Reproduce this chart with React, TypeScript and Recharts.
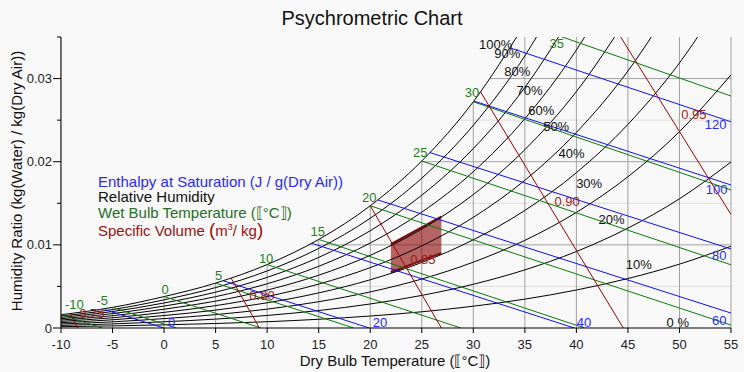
import { ComposedChart, Line, Area, Scatter, XAxis, YAxis, CartesianGrid } from "recharts";

// dry bulb temperature (°C) at which the relative humidity curves are sampled
const temps = [-10, -5, 0, 5, 10, 15, 20, 25, 30, 35, 40, 45, 50, 55];

// humidity ratio (kg water / kg dry air) along each relative humidity curve
const rh10 = [0.00016, 0.00025, 0.00038, 0.00054, 0.000755, 0.00105, 0.00144, 0.00195, 0.00262, 0.00347, 0.00457, 0.00595, 0.00768, 0.00983];
const rh20 = [0.00032, 0.00049, 0.00075, 0.00107, 0.00151, 0.0021, 0.00289, 0.00392, 0.00526, 0.00699, 0.0092, 0.01201, 0.01554, 0.01997];
const rh30 = [0.00048, 0.00074, 0.00113, 0.00161, 0.00227, 0.00316, 0.00434, 0.00589, 0.00792, 0.01054, 0.0139, 0.01819, 0.02361, 0.03045];
const rh40 = [0.00064, 0.00099, 0.0015, 0.00215, 0.00303, 0.00422, 0.0058, 0.00788, 0.01061, 0.01414, 0.01868, 0.02449, 0.03188, 0.04127];
const rh50 = [0.0008, 0.00123, 0.00188, 0.00269, 0.00379, 0.00528, 0.00726, 0.00988, 0.01331, 0.01777, 0.02352, 0.03091, 0.04037];
const rh60 = [0.00096, 0.00148, 0.00226, 0.00323, 0.00456, 0.00635, 0.00874, 0.0119, 0.01605, 0.02145, 0.02844, 0.03747];
const rh70 = [0.00112, 0.00173, 0.00264, 0.00377, 0.00532, 0.00742, 0.01022, 0.01393, 0.0188, 0.02517, 0.03344, 0.04415];
const rh80 = [0.00128, 0.00198, 0.00301, 0.00431, 0.00609, 0.00849, 0.0117, 0.01597, 0.02158, 0.02893, 0.03851];
const rh90 = [0.00144, 0.00222, 0.00339, 0.00486, 0.00686, 0.00957, 0.0132, 0.01802, 0.02438, 0.03273, 0.04366];
const rh100 = [0.0016, 0.00248, 0.00378, 0.0054, 0.00763, 0.01065, 0.0147, 0.02009, 0.02721, 0.03658];
const rhCurves = [rh10, rh20, rh30, rh40, rh50, rh60, rh70, rh80, rh90, rh100];

// wet bulb lines: start on saturation, end on the axis or right edge
const wetBulbStartT = [-10, -5, 0, 5, 10, 15, 20, 25, 30, 35];
const wetBulbStartW = [0.0016, 0.00248, 0.00378, 0.0054, 0.00763, 0.01065, 0.0147, 0.02009, 0.02721, 0.03658];
const wetBulbEndT = [-6.0, 1.2, 9.4, 18.4, 28.8, 40.8, 55, 55, 55, 55];
const wetBulbEndW = [0, 0, 0, 0, 0, 0, 0.00035, 0.0076, 0.0166, 0.0279];

// enthalpy lines (0..120 J/g)
const enthalpyStartT = [-5.75, 5.7, 14.3, 20.75, 25.8, 30.05, 33.55];
const enthalpyStartW = [0.0022, 0.0057, 0.0102, 0.0154, 0.0211, 0.0273, 0.0337];
const enthalpyEndT = [0, 19.9, 39.8, 55, 55, 55, 55];
const enthalpyEndW = [0, 0, 0, 0.0018, 0.0095, 0.0172, 0.0248];

// specific volume lines (0.75..0.95 m3/kg)
const volumeStartT = [-9.1, 6.5, 20.0, 30.7, 44.3];
const volumeStartW = [0.00175, 0.006, 0.0147, 0.0284, 0.035];
const volumeEndT = [-8.4, 9.25, 26.9, 44.55, 55];
const volumeEndW = [0, 0, 0, 0, 0.01365];

// comfort zone between 40% and 60% RH
const comfortT = [22, 26.9];
const comfortLow = [0.0067, 0.009];
const comfortHigh = [0.0101, 0.0134];

// labels: [t, w, text]
const wetBulbLabels: [number, number, string][] = [
  [-8.7, 0.00285, "-10"], [-6.0, 0.00325, "-5"], [0.1, 0.00465, "0"], [5.3, 0.00634, "5"],
  [9.9, 0.00838, "10"], [14.9, 0.01155, "15"], [19.9, 0.01572, "20"], [24.85, 0.02114, "25"],
  [29.87, 0.02827, "30"], [38.1, 0.03425, "35"],
];
const enthalpyLabels: [number, number, string][] = [
  [0.74, 0.0007, "0"], [20.94, 0.00072, "20"], [40.73, 0.00072, "40"], [53.85, 0.00093, "60"],
  [53.85, 0.00876, "80"], [53.6, 0.01665, "100"], [53.5, 0.0245, "120"],
];
const volumeLabels: [number, number, string][] = [
  [-7.0, 0.00173, "0.75"], [9.5, 0.00393, "0.80"], [25.1, 0.00823, "0.85"], [39.1, 0.01516, "0.90"], [51.4, 0.02567, "0.95"],
];
const rhLabels: [number, number, string][] = [
  [32.16, 0.03413, "100%"], [33.3, 0.03301, "90%"], [34.26, 0.03088, "80%"], [35.46, 0.02859, "70%"],
  [36.59, 0.02619, "60%"], [38.04, 0.02418, "50%"], [39.53, 0.02098, "40%"], [41.24, 0.01737, "30%"],
  [43.41, 0.01304, "20%"], [46.06, 0.00766, "10%"], [49.84, 0.00072, "0 %"],
];

const xTicks = [-10, -5, 0, 5, 10, 15, 20, 25, 30, 35, 40, 45, 50, 55];
const yTicks = [0, 0.005, 0.01, 0.015, 0.02, 0.025, 0.03, 0.035];
const yMajor = [0.01, 0.02, 0.03];
const yMinor = [0.005, 0.015, 0.025];

const BG = "#f8f8f8";
const FONT = "'Liberation Sans', Arial, sans-serif";

const segs = (st: number[], sw: number[], et: number[], ew: number[]) =>
  st.map((t, i) => [{ t, w: sw[i] }, { t: et[i], w: ew[i] }]);

const toLabelData = (arr: [number, number, string][]) => arr.map(([t, w, text]) => ({ t, w, text }));

const labelShape = (color: string) => (props: any) => (
  <text x={props.cx} y={props.cy} textAnchor="middle" dominantBaseline="central" fontSize={13} fill={color} fontFamily={FONT}>
    {props.payload.text}
  </text>
);

const YTick = (props: any) => {
  const { x, y, payload } = props;
  const v = payload.value;
  const major = Math.abs(v * 100 - Math.round(v * 100)) < 1e-6;
  return (
    <g>
      <line x1={x + (major ? 0 : 4)} y1={y} x2={x + 8} y2={y} stroke="#000" />
      {major && (
        <text x={x - 1} y={y} textAnchor="end" dominantBaseline="central" fontSize={13} fill="#222" fontFamily={FONT}>
          {v === 0 ? "0" : v.toFixed(2)}
        </text>
      )}
    </g>
  );
};

export default function App() {
  const maskData = rh100.map((w, i) => ({ t: temps[i], band: [w, 0.035] }));
  const comfortData = comfortT.map((t, i) => ({ t, band: [comfortLow[i], comfortHigh[i]] }));

  return (
    <div style={{ position: "absolute", left: 0, top: 0, width: 744, height: 372, background: BG, fontFamily: FONT }}>
      <div style={{ position: "absolute", top: 6, left: 0, width: 744, textAlign: "center", fontSize: 20, lineHeight: "24px", color: "#111" }}>
        Psychrometric Chart
      </div>
      <ComposedChart width={744} height={372} margin={{ top: 37, right: 13, bottom: 14, left: 8 }}>
        <CartesianGrid horizontal={true} vertical={false} horizontalValues={yMinor} stroke="#dddddd" />
        <CartesianGrid horizontal={true} vertical={true} horizontalValues={yMajor} verticalValues={xTicks} stroke="#a0a0a0" />
        <Area data={maskData} dataKey="band" type="monotone" stroke="none" fill={BG} fillOpacity={1} isAnimationActive={false} />
        {rhCurves.map((arr, k) => (
          <Line key={"rh" + k} data={arr.map((w, i) => ({ t: temps[i], w }))} dataKey="w" type="monotone" stroke="#000" strokeWidth={1} dot={false} isAnimationActive={false} />
        ))}
        {segs(wetBulbStartT, wetBulbStartW, wetBulbEndT, wetBulbEndW).map((d, k) => (
          <Line key={"wb" + k} data={d} dataKey="w" type="linear" stroke="#0a7a0a" strokeWidth={1} dot={false} isAnimationActive={false} />
        ))}
        {segs(enthalpyStartT, enthalpyStartW, enthalpyEndT, enthalpyEndW).map((d, k) => (
          <Line key={"h" + k} data={d} dataKey="w" type="linear" stroke="#1010ee" strokeWidth={1} dot={false} isAnimationActive={false} />
        ))}
        {segs(volumeStartT, volumeStartW, volumeEndT, volumeEndW).map((d, k) => (
          <Line key={"v" + k} data={d} dataKey="w" type="linear" stroke="#a00000" strokeWidth={1} dot={false} isAnimationActive={false} />
        ))}
        <Area data={comfortData} dataKey="band" type="linear" stroke="#7a0a0a" strokeWidth={2} fill="#8b0000" fillOpacity={0.6} isAnimationActive={false} />
        <Scatter data={toLabelData(wetBulbLabels)} dataKey="w" shape={labelShape("#1f7f1f")} isAnimationActive={false} />
        <Scatter data={toLabelData(enthalpyLabels)} dataKey="w" shape={labelShape("#2a2aff")} isAnimationActive={false} />
        <Scatter data={toLabelData(volumeLabels)} dataKey="w" shape={labelShape("#a01818")} isAnimationActive={false} />
        <Scatter data={toLabelData(rhLabels)} dataKey="w" shape={labelShape("#111")} isAnimationActive={false} />
        <XAxis type="number" dataKey="t" domain={[-10, 55]} ticks={xTicks} allowDataOverflow stroke="#000" tickSize={5} tickMargin={7} height={30} tick={{ fontSize: 13, fill: "#222", fontFamily: FONT }} />
        <YAxis type="number" domain={[0, 0.035]} ticks={yTicks} allowDataOverflow stroke="#000" width={53} tickSize={8} tickMargin={0} tickLine={false} tick={<YTick />} />
      </ComposedChart>
      <div style={{ position: "absolute", left: 16.5 - 160, top: 181 - 10, width: 320, height: 20, lineHeight: "20px", textAlign: "center", fontSize: 15, color: "#111", transform: "rotate(-90deg)" }}>
        Humidity Ratio (kg(Water) / kg(Dry Air))
      </div>
      <div style={{ position: "absolute", left: 395 - 200, top: 354, width: 400, height: 14, lineHeight: "14px", textAlign: "center", fontSize: 15, color: "#111" }}>
        Dry Bulb Temperature (⟦°C⟧)
      </div>
      <div style={{ position: "absolute", left: 98, top: 174, fontSize: 15, lineHeight: "15.3px", whiteSpace: "nowrap" }}>
        <div style={{ color: "#2a2aff" }}>Enthalpy at Saturation (J / g(Dry Air))</div>
        <div style={{ color: "#111" }}>Relative Humidity</div>
        <div style={{ color: "#1f6f1f" }}>Wet Bulb Temperature (⟦°C⟧)</div>
        <div style={{ color: "#991111" }}>
          Specific Volume <span style={{ fontSize: 19 }}>(</span>m<sup style={{ fontSize: 9 }}>3</sup>/ kg<span style={{ fontSize: 19 }}>)</span>
        </div>
      </div>
    </div>
  );
}
